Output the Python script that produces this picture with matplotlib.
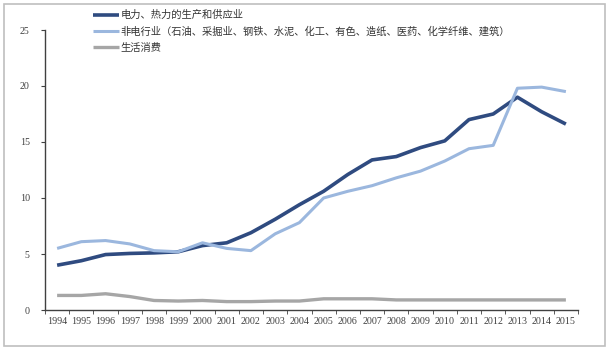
import matplotlib
matplotlib.use("Agg")
import matplotlib.pyplot as plt
from matplotlib.patches import Rectangle

plt.rcParams['font.family'] = ['Noto Sans CJK SC', 'DejaVu Sans']

years = [str(y) for y in range(1994, 2016)]
power = [4.0, 4.4, 4.95, 5.05, 5.1, 5.2, 5.75, 6.0, 6.9, 8.1, 9.4, 10.6,
         12.1, 13.4, 13.7, 14.5, 15.1, 17.0, 17.5, 19.0, 17.7, 16.6]
nonpower = [5.5, 6.1, 6.2, 5.9, 5.3, 5.2, 6.0, 5.5, 5.3, 6.8, 7.8, 10.0,
            10.6, 11.1, 11.8, 12.4, 13.3, 14.4, 14.7, 19.8, 19.9, 19.5]
living = [1.3, 1.3, 1.45, 1.2, 0.85, 0.8, 0.85, 0.75, 0.75, 0.8, 0.8, 1.0,
          1.0, 1.0, 0.9, 0.9, 0.9, 0.9, 0.9, 0.9, 0.9, 0.9]
labels = ['电力、热力的生产和供应业',
          '非电行业（石油、采掘业、钢铁、水泥、化工、有色、造纸、医药、化学纤维、建筑）',
          '生活消费']
yticks = [0, 5, 10, 15, 20, 25]

fig = plt.figure(figsize=(6.12, 3.53), dpi=100)
fig.patches.append(Rectangle((4/612, 1-346/353), 601/612, 342/353,
                             transform=fig.transFigure, fill=False,
                             edgecolor='#bfbfbf', linewidth=1.2))
ax = fig.add_axes([45/612, 1-310/353, 533/612, 280/353])

x = list(range(len(years)))
colors = ['#2F4B80', '#9BB7DE', '#A6A6A6']
widths = [2.6, 2.2, 2.4]
for series, c, w, lab in zip([power, nonpower, living], colors, widths, labels):
    ax.plot(x, series, color=c, linewidth=w, label=lab, solid_capstyle='butt')

ax.set_xlim(-0.5, len(years) - 0.5)
ax.set_ylim(0, 25)
ax.set_yticks(yticks)
ax.set_yticklabels([str(v) for v in yticks])
ax.set_xticks(x)
ax.set_xticklabels(years)
ax.set_xticks([i - 0.5 for i in range(len(years) + 1)], minor=True)
ax.tick_params(axis='x', which='major', length=0, labelsize=7.2,
               labelcolor='#404040', pad=5)
ax.tick_params(axis='x', which='minor', length=3, direction='out', color='#404040')
ax.tick_params(axis='y', length=3, direction='out', labelsize=7.2,
               labelcolor='#404040', color='#404040', pad=8)
for lab in ax.get_xticklabels() + ax.get_yticklabels():
    lab.set_family(['Liberation Serif', 'DejaVu Serif'])
for s in ['top', 'right']:
    ax.spines[s].set_visible(False)
for s in ['left', 'bottom']:
    ax.spines[s].set_color('#404040')
    ax.spines[s].set_linewidth(1.0)

leg = ax.legend(loc='upper left', bbox_to_anchor=(93/612, 1-10/353),
                bbox_transform=fig.transFigure, frameon=False, fontsize=7.4,
                handlelength=2.5, handletextpad=0.15, labelspacing=0.6,
                borderaxespad=0, borderpad=0)
for t in leg.get_texts():
    t.set_color('#333333')

fig.savefig('out.png', dpi=100)
